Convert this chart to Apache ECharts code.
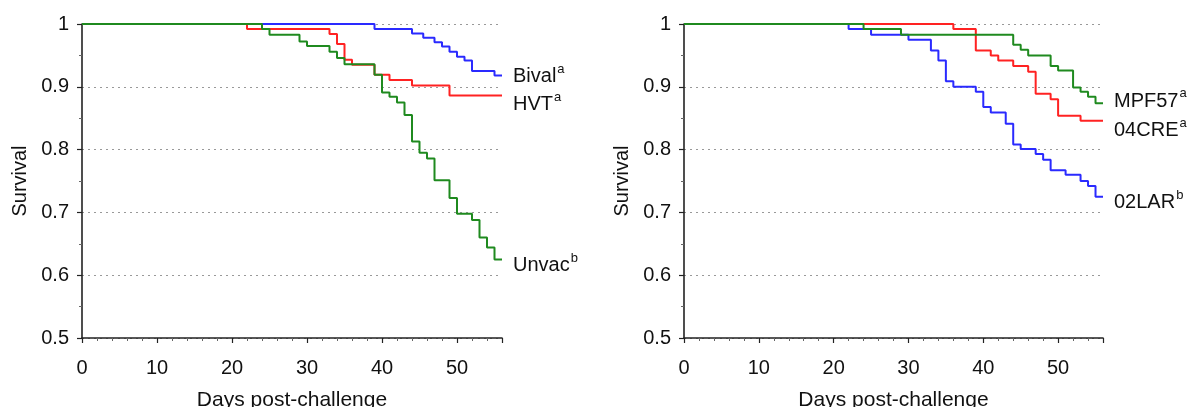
<!DOCTYPE html>
<html>
<head>
<meta charset="utf-8">
<script src="https://cdn.jsdelivr.net/npm/echarts@6/dist/echarts.min.js"></script>
<style>
html, body { margin: 0; padding: 0; background: #fff; }
#chart { width: 1198px; height: 407px; }
</style>
</head>
<body>
<div id="chart"></div>
<script>
// left panel: [day, survival]
var bival = [[0,1],[39,0.992],[44,0.985],[45.5,0.978],[47,0.971],[48,0.964],[49,0.956],[50,0.948],[51,0.942],[52,0.925],[55,0.918],[56,0.918]];
var hvt = [[0,1],[22,0.992],[33,0.984],[34,0.968],[35,0.943],[36,0.935],[39,0.919],[41,0.911],[44,0.902],[49,0.886],[56,0.886]];
var unvac = [[0,1],[24,0.992],[25,0.983],[29,0.972],[30,0.965],[33,0.956],[34,0.946],[35,0.936],[39,0.919],[40,0.891],[41,0.884],[42,0.875],[43,0.855],[44,0.813],[45,0.795],[46,0.786],[47,0.751],[49,0.723],[50,0.698],[52,0.688],[53,0.660],[54,0.644],[55,0.625],[56,0.625]];

// right panel
var lar02 = [[0,1],[22,0.992],[25,0.983],[30,0.975],[33,0.958],[34,0.942],[35,0.909],[36,0.9],[39,0.892],[40,0.868],[41,0.859],[43,0.841],[44,0.808],[45,0.801],[47,0.793],[48,0.784],[49,0.767],[51,0.760],[53,0.750],[54,0.742],[55,0.725],[56,0.725]];
var cre04 = [[0,1],[36,0.992],[39,0.958],[41,0.950],[42,0.942],[44,0.933],[46,0.924],[47,0.889],[49,0.880],[50,0.854],[53,0.846],[56,0.846]];
var mpf57 = [[0,1],[24,0.992],[29,0.983],[44,0.967],[45,0.959],[46,0.950],[49,0.933],[50,0.926],[52,0.899],[53,0.892],[54,0.884],[55,0.874],[56,0.874]];

var xTicks = [0, 10, 20, 30, 40, 50];
var yTicks = [0.5, 0.6, 0.7, 0.8, 0.9, 1];

var FONT = "'Liberation Sans', Arial, Helvetica, sans-serif";
var BLUE = '#2a2aff', RED = '#ff2222', GREEN = '#1f8a1f';

var dom = document.getElementById('chart');
var myChart = echarts.init(dom);

function xAxis(idx) {
    return {
        gridIndex: idx,
        type: 'value',
        min: 0,
        max: 56,
        interval: 10,
        name: 'Days post-challenge',
        nameLocation: 'middle',
        nameGap: 52,
        nameTextStyle: { fontFamily: FONT, fontSize: 21, color: '#111' },
        axisLine: { show: true, lineStyle: { color: '#222', width: 1.6 } },
        axisTick: { show: true, length: 5, lineStyle: { color: '#222', width: 1.2 } },
        minorTick: { show: true, splitNumber: 5, length: 3, lineStyle: { color: '#666' } },
        axisLabel: {
            fontFamily: FONT, fontSize: 20, color: '#111', margin: 20,
            formatter: function (v) { return xTicks.indexOf(v) >= 0 ? String(v) : ''; }
        },
        splitLine: { show: false }
    };
}

function yAxis(idx) {
    return {
        gridIndex: idx,
        type: 'value',
        min: 0.5,
        max: 1,
        interval: 0.1,
        name: 'Survival',
        nameLocation: 'middle',
        nameGap: 52,
        nameTextStyle: { fontFamily: FONT, fontSize: 20, color: '#111' },
        axisLine: { show: true, lineStyle: { color: '#222', width: 1.6 } },
        axisTick: { show: true, length: 5, lineStyle: { color: '#222', width: 1.2 } },
        minorTick: { show: true, splitNumber: 2, length: 3, lineStyle: { color: '#666' } },
        axisLabel: {
            fontFamily: FONT, fontSize: 20, color: '#111', margin: 13,
            formatter: function (v) {
                var r = Math.round(v * 10) / 10;
                return yTicks.indexOf(r) >= 0 ? String(r) : '';
            }
        },
        splitLine: { show: true, lineStyle: { color: '#999', type: [2, 4], width: 1 } }
    };
}

function line(name, sup, data, color, idx, dy) {
    return {
        name: name,
        type: 'line',
        step: 'end',
        xAxisIndex: idx,
        yAxisIndex: idx,
        data: data,
        symbol: 'none',
        lineStyle: { color: color, width: 2 },
        itemStyle: { color: color },
        z: 3,
        endLabel: {
            show: true,
            distance: 11,
            offset: [0, dy],
            formatter: '{n|' + name + '}{s|' + sup + '}',
            rich: {
                n: { fontFamily: FONT, fontSize: 20, color: '#111', lineHeight: 24, verticalAlign: 'bottom' },
                s: { fontFamily: FONT, fontSize: 13, color: '#111', lineHeight: 24, verticalAlign: 'top', padding: [0, 0, 0, 1] }
            }
        },
        animation: false
    };
}

var option = {
    backgroundColor: '#fff',
    animation: false,
    grid: [
        { left: 82, top: 24, width: 420, height: 314, outerBoundsMode: 'none' },
        { left: 684, top: 24, width: 419, height: 314, outerBoundsMode: 'none' }
    ],
    xAxis: [xAxis(0), xAxis(1)],
    yAxis: [yAxis(0), yAxis(1)],
    series: [
        line('Bival', 'a', bival, BLUE, 0, -1),
        line('HVT', 'a', hvt, RED, 0, 7),
        line('Unvac', 'b', unvac, GREEN, 0, 4),
        line('02LAR', 'b', lar02, BLUE, 1, 4),
        line('04CRE', 'a', cre04, RED, 1, 8),
        line('MPF57', 'a', mpf57, GREEN, 1, -4)
    ]
};

if (option && typeof option === 'object') {
    myChart.setOption(option);
}
</script>
</body>
</html>
